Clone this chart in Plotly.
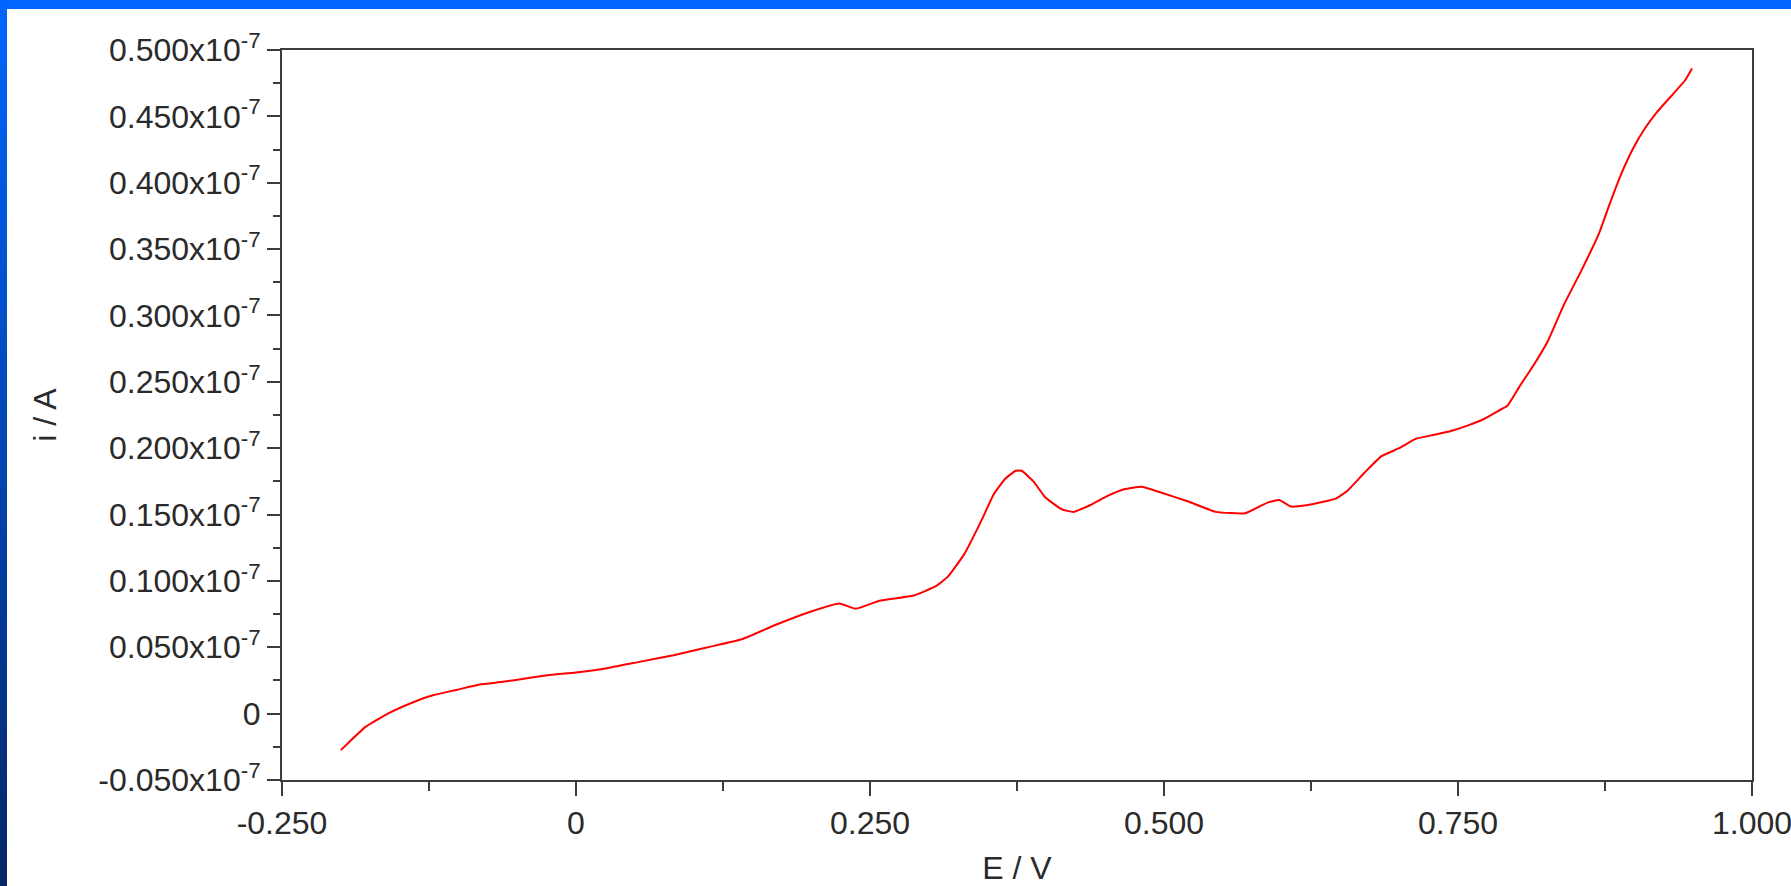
import plotly.graph_objects as go

# Potential E / V
E_V = [-0.200, -0.193, -0.179, -0.160, -0.140, -0.121, -0.101, -0.082, -0.062, -0.043,
       -0.024, 0.000, 0.025, 0.054, 0.083, 0.112, 0.141, 0.170, 0.200, 0.224,
       0.238, 0.258, 0.287, 0.306, 0.316, 0.330, 0.345, 0.355, 0.365, 0.374,
       0.379, 0.389, 0.399, 0.413, 0.423, 0.437, 0.452, 0.466, 0.481, 0.496,
       0.520, 0.544, 0.569, 0.588, 0.598, 0.608, 0.627, 0.646, 0.656, 0.671,
       0.685, 0.700, 0.714, 0.729, 0.744, 0.758, 0.772, 0.784, 0.792, 0.802,
       0.816, 0.826, 0.840, 0.855, 0.870, 0.879, 0.889, 0.899, 0.909, 0.919,
       0.933, 0.943, 0.949]
# Current i / A, in units of 1e-7 A
I_A = [-0.0275, -0.0215, -0.010, 0.000, 0.008, 0.014, 0.018, 0.022, 0.024, 0.0265,
       0.029, 0.031, 0.034, 0.039, 0.044, 0.050, 0.056, 0.067, 0.077, 0.083,
       0.079, 0.085, 0.089, 0.096, 0.103, 0.120, 0.146, 0.165, 0.177, 0.183,
       0.183, 0.175, 0.163, 0.154, 0.152, 0.157, 0.164, 0.169, 0.171, 0.167,
       0.160, 0.152, 0.151, 0.159, 0.161, 0.156, 0.158, 0.162, 0.168, 0.182,
       0.194, 0.200, 0.207, 0.210, 0.213, 0.217, 0.222, 0.228, 0.232, 0.246,
       0.265, 0.280, 0.308, 0.334, 0.362, 0.384, 0.407, 0.426, 0.441, 0.453,
       0.467, 0.477, 0.486]

x_major = [-0.25, 0.0, 0.25, 0.5, 0.75, 1.0]
x_labels = ["-0.250", "0", "0.250", "0.500", "0.750", "1.000"]
x_minor = [-0.125, 0.125, 0.375, 0.625, 0.875]

y_major = [-0.05, 0.0, 0.05, 0.10, 0.15, 0.20, 0.25, 0.30, 0.35, 0.40, 0.45, 0.50]
y_labels = ["-0.050x10<sup>-7</sup>", "0", "0.050x10<sup>-7</sup>", "0.100x10<sup>-7</sup>",
            "0.150x10<sup>-7</sup>", "0.200x10<sup>-7</sup>", "0.250x10<sup>-7</sup>",
            "0.300x10<sup>-7</sup>", "0.350x10<sup>-7</sup>", "0.400x10<sup>-7</sup>",
            "0.450x10<sup>-7</sup>", "0.500x10<sup>-7</sup>"]
y_minor = [-0.025, 0.025, 0.075, 0.125, 0.175, 0.225, 0.275, 0.325, 0.375, 0.425, 0.475]

W, H = 1791, 886
L, R, T, B = 282, 1752, 50, 780
FONT = "Liberation Sans, Arial, sans-serif"
TXT = "#2a2a2a"
AX = "#3c3c3c"

fig = go.Figure()
fig.add_trace(go.Scatter(x=E_V, y=I_A, mode="lines",
                         line=dict(color="#ff0000", width=2, shape="spline", smoothing=0.4),
                         showlegend=False))

def px2paper_x(px):
    return (px - L) / (R - L)

def px2paper_y(py):
    return (B - py) / (B - T)

shapes = []
# top blue bar
shapes.append(dict(type="rect", xref="paper", yref="paper",
                   x0=px2paper_x(0), x1=px2paper_x(W), y0=px2paper_y(9), y1=px2paper_y(0),
                   fillcolor="#0066ff", line=dict(width=0), layer="above"))
# left gradient bar (top bright blue -> bottom navy)
top_c = (0x00, 0x66, 0xff)
bot_c = (0x06, 0x26, 0x66)
nseg = 40
for k in range(nseg):
    t = (k + 0.5) / nseg
    c = tuple(int(round(top_c[j] + (bot_c[j] - top_c[j]) * t)) for j in range(3))
    y0 = H * k / nseg
    y1 = H * (k + 1) / nseg + 1
    shapes.append(dict(type="rect", xref="paper", yref="paper",
                       x0=px2paper_x(0), x1=px2paper_x(7),
                       y0=px2paper_y(y1), y1=px2paper_y(y0),
                       fillcolor="rgb(%d,%d,%d)" % c, line=dict(width=0), layer="above"))

fig.update_layout(
    width=W, height=H,
    margin=dict(l=L, r=W - R, t=T, b=H - B, pad=0),
    paper_bgcolor="white", plot_bgcolor="white",
    font=dict(family=FONT, size=32, color=TXT),
    shapes=shapes,
    xaxis=dict(
        range=[-0.25, 1.0], showgrid=False, zeroline=False,
        showline=True, linecolor=AX, linewidth=2, mirror=True,
        tickmode="array", tickvals=x_major, ticktext=x_labels,
        ticks="outside", ticklen=14, tickwidth=2, tickcolor=AX,
        tickfont=dict(family=FONT, size=32, color=TXT),
        ticklabeloverflow="allow",
        minor=dict(tickmode="array", tickvals=x_minor, ticks="outside",
                   ticklen=9, tickwidth=2, tickcolor=AX, showgrid=False),
        title=dict(text="E / V", font=dict(family=FONT, size=32, color=TXT), standoff=22),
        automargin=False,
    ),
    yaxis=dict(
        range=[-0.05, 0.5], showgrid=False, zeroline=False,
        showline=True, linecolor=AX, linewidth=2, mirror=True,
        tickmode="array", tickvals=y_major, ticktext=y_labels,
        ticks="outside", ticklen=13, tickwidth=2, tickcolor=AX,
        tickfont=dict(family=FONT, size=32, color=TXT),
        ticklabeloverflow="allow",
        minor=dict(tickmode="array", tickvals=y_minor, ticks="outside",
                   ticklen=7, tickwidth=2, tickcolor=AX, showgrid=False),
        title=dict(text="i / A", font=dict(family=FONT, size=32, color=TXT), standoff=32),
        automargin=False,
    ),
)

fig.write_html("out.html")
